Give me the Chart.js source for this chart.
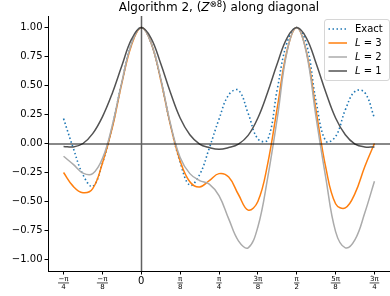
<!DOCTYPE html>
<html><head><meta charset="utf-8">
<script src="https://cdn.jsdelivr.net/npm/chart.js@4.4.0/dist/chart.umd.min.js"></script>
<style>html,body{margin:0;padding:0;background:#fff}canvas{display:block}</style>
</head><body>
<canvas id="c" width="390" height="296"></canvas>
<script>
// x positions in units of pi/32
const xSteps=[-8,-7,-6,-5,-4,-3,-2,-1,0,1,2,3,4,5,6,7,8,9,10,11,12,13,14,15,16,17,18,19,20,21,22,23,24];
const exact=[0.215,-0.04,-0.27,-0.37,-0.17,0.14,0.53,0.86,1.0,0.87,0.55,0.16,-0.16,-0.36,-0.27,-0.04,0.21,0.42,0.46,0.26,0.04,0.03,0.47,0.87,1.0,0.86,0.36,0.02,0.06,0.29,0.45,0.44,0.22];
const l3=[-0.25,-0.37,-0.425,-0.39,-0.17,0.13,0.52,0.85,1.0,0.87,0.55,0.16,-0.15,-0.33,-0.375,-0.32,-0.26,-0.29,-0.44,-0.575,-0.50,-0.18,0.31,0.80,1.0,0.79,0.28,-0.21,-0.52,-0.555,-0.43,-0.20,0.0];
const l2=[-0.11,-0.18,-0.255,-0.26,-0.13,0.15,0.53,0.86,1.0,0.87,0.56,0.17,-0.12,-0.26,-0.32,-0.35,-0.45,-0.65,-0.84,-0.90,-0.72,-0.30,0.22,0.79,1.0,0.78,0.22,-0.30,-0.76,-0.90,-0.83,-0.60,-0.325];
const l1=[-0.025,-0.03,0.0,0.085,0.23,0.43,0.67,0.9,1.0,0.91,0.69,0.44,0.22,0.075,-0.005,-0.035,-0.05,-0.035,-0.005,0.07,0.22,0.44,0.69,0.91,1.0,0.91,0.69,0.44,0.22,0.075,-0.005,-0.03,-0.03];
const xTickVals=[-8,-4,0,4,8,12,16,20,24];
const xTickLabels=[['−π','4'],['−π','8'],'0',['π','8'],['π','4'],['3π','8'],['π','2'],['5π','8'],['3π','4']];
const yTickVals=[-1,-0.75,-0.5,-0.25,0,0.25,0.5,0.75,1];
const titleParts=[['Algorithm 2, (','n'],['Z','i'],['⊗8','s'],[') along diagonal','n']];
const FONT='"DejaVu Sans"';

const pts=a=>xSteps.map((x,i)=>({x,y:a[i]}));

const zeroLines={id:'zeroLines',afterDatasetsDraw(chart){
  const {ctx,chartArea:a,scales:{x,y}}=chart;
  const px=Math.round(x.getPixelForValue(0))+0.5, py=Math.round(y.getPixelForValue(0));
  ctx.save();ctx.strokeStyle='rgba(0,0,0,0.62)';ctx.lineWidth=1.5;
  ctx.beginPath();ctx.moveTo(a.left,py);ctx.lineTo(a.right,py);ctx.moveTo(px,a.top);ctx.lineTo(px,a.bottom);ctx.stroke();
  ctx.restore();
}};

const fracBars={id:'fracBars',afterDraw(chart){
  const {ctx,scales:{x}}=chart;
  ctx.save();ctx.fillStyle='#000';ctx.font='7px '+FONT;
  xTickVals.forEach((v,i)=>{
    const lab=xTickLabels[i]; if(!Array.isArray(lab)) return;
    const w=Math.max(...lab.map(s=>ctx.measureText(s).width))+1;
    const px=x.getPixelForValue(v);
    ctx.fillRect(px-w/2,x.top+3.5+8.1,w,0.7);
  });
  ctx.restore();
}};

const titlePlugin={id:'mplTitle',afterDraw(chart){
  const {ctx,chartArea:a}=chart;
  const fonts={n:'12px '+FONT,i:'italic 12px '+FONT,s:'8.5px '+FONT};
  ctx.save();ctx.fillStyle='#000';ctx.textBaseline='alphabetic';
  let total=0;titleParts.forEach(([t,k])=>{ctx.font=fonts[k];total+=ctx.measureText(t).width;});
  let xx=(a.left+a.right)/2-total/2;const base=11;
  titleParts.forEach(([t,k])=>{ctx.font=fonts[k];ctx.fillText(t,xx,k==='s'?base-4.5:base);xx+=ctx.measureText(t).width;});
  ctx.restore();
}};

const legendPlugin={id:'mplLegend',afterDraw(chart){
  const ctx=chart.ctx;
  const x0=324.5,y0=19.5,w=65,h=61,r=2.5;
  ctx.save();
  ctx.beginPath();
  ctx.moveTo(x0+r,y0);ctx.lineTo(x0+w-r,y0);ctx.quadraticCurveTo(x0+w,y0,x0+w,y0+r);
  ctx.lineTo(x0+w,y0+h-r);ctx.quadraticCurveTo(x0+w,y0+h,x0+w-r,y0+h);
  ctx.lineTo(x0+r,y0+h);ctx.quadraticCurveTo(x0,y0+h,x0,y0+h-r);
  ctx.lineTo(x0,y0+r);ctx.quadraticCurveTo(x0,y0,x0+r,y0);ctx.closePath();
  ctx.fillStyle='rgba(255,255,255,0.8)';ctx.fill();
  ctx.strokeStyle='rgba(204,204,204,0.8)';ctx.lineWidth=1;ctx.stroke();
  chart.data.datasets.forEach((ds,i)=>{
    const yy=29+i*14;
    ctx.beginPath();ctx.setLineDash(ds.borderDash||[]);ctx.strokeStyle=ds.borderColor;ctx.lineWidth=1.5;
    ctx.moveTo(328.5,yy);ctx.lineTo(347,yy);ctx.stroke();ctx.setLineDash([]);
    ctx.fillStyle='#000';ctx.textBaseline='middle';
    let tx=355;
    if(ds.label.startsWith('L ')){
      ctx.font='italic 10px '+FONT;ctx.fillText('L',tx,yy);tx+=ctx.measureText('L').width;
      ctx.font='10px '+FONT;ctx.fillText(ds.label.slice(1),tx,yy);
    } else {ctx.font='10px '+FONT;ctx.fillText(ds.label,tx,yy);}
  });
  ctx.restore();
}};

new Chart(document.getElementById('c'),{
  type:'line',
  data:{datasets:[
    {label:'Exact',data:pts(exact),borderColor:'#1f77b4',borderDash:[1.5,2.5],borderWidth:1.6,order:4},
    {label:'L = 3',data:pts(l3),borderColor:'#ff7f0e',borderWidth:1.5,order:3},
    {label:'L = 2',data:pts(l2),borderColor:'#ababab',borderWidth:1.5,order:2},
    {label:'L = 1',data:pts(l1),borderColor:'#525252',borderWidth:1.5,order:1}
  ]},
  options:{
    responsive:false,animation:false,devicePixelRatio:1,
    layout:{padding:{top:16,right:0,bottom:0,left:0}},
    elements:{point:{radius:0},line:{tension:0.4,fill:false,capBezierPoints:false}},
    plugins:{legend:{display:false},title:{display:false},tooltip:{enabled:false}},
    scales:{
      x:{type:'linear',min:-9.6,max:25.6,
        afterBuildTicks:s=>{s.ticks=xTickVals.map(v=>({value:v}));},
        afterFit:s=>{s.height=25;},
        grid:{drawOnChartArea:false,drawTicks:true,tickLength:3.5,color:'#000'},
        border:{display:true,color:'#000',width:1},
        ticks:{autoSkip:false,maxRotation:0,padding:0,color:'#000',
          callback:(v,i)=>xTickLabels[i],
          font:c=>Array.isArray(xTickLabels[c.index])?{family:'DejaVu Sans',size:7,lineHeight:1.2}:{family:'DejaVu Sans',size:10,lineHeight:1.4}}
      },
      y:{min:-1.1,max:1.1,
        afterBuildTicks:s=>{s.ticks=yTickVals.map(v=>({value:v}));},
        afterFit:s=>{s.width=48;},
        grid:{drawOnChartArea:false,drawTicks:true,tickLength:3.5,color:'#000'},
        border:{display:true,color:'#000',width:1},
        ticks:{padding:2,color:'#000',font:{family:'DejaVu Sans',size:10},
          callback:v=>(v<0?'−':'')+Math.abs(v).toFixed(2)}
      }
    }
  },
  plugins:[zeroLines,fracBars,titlePlugin,legendPlugin]
});
</script>
</body></html>
